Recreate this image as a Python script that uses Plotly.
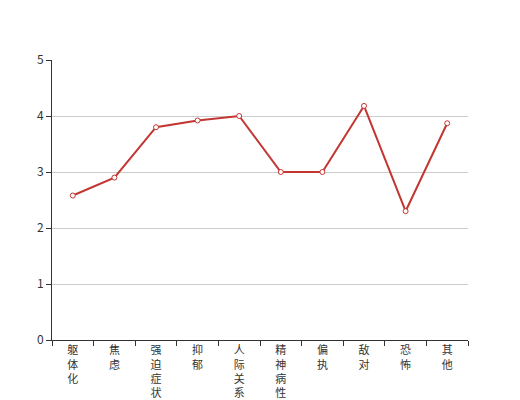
import plotly.graph_objects as go

categories = ["躯体化", "焦虑", "强迫症状", "抑郁", "人际关系敏感", "精神病性", "偏执", "敌对", "恐怖", "其他"]
values = [2.58, 2.9, 3.8, 3.92, 4.0, 3.0, 3.0, 4.18, 2.3, 3.87]
y_ticks = [0, 1, 2, 3, 4, 5]

labels = ["<br>".join(list(c)) for c in categories]

fig = go.Figure()
fig.add_trace(go.Scatter(
    x=categories, y=values, mode="lines+markers",
    line=dict(color="#c23531", width=2),
    marker=dict(size=5, color="white", line=dict(color="#c23531", width=1)),
))

fig.update_layout(
    width=520, height=400,
    margin=dict(l=44, r=60, t=52, b=68),
    paper_bgcolor="white", plot_bgcolor="white",
    showlegend=False,
    font=dict(family="Noto Sans CJK SC, sans-serif", size=12, color="#333"),
)
fig.update_xaxes(
    type="category", tickvals=categories, ticktext=labels,
    tickson="boundaries", ticks="outside", ticklen=5, tickcolor="#333",
    showline=True, linecolor="#333", linewidth=1,
    showgrid=False, zeroline=False, automargin=False,
    tickfont=dict(size=11, color="#333"),
    range=[-0.5, len(categories) - 0.5],
)
fig.update_yaxes(
    range=[0, 5], tickvals=y_ticks,
    ticks="outside", ticklen=5, tickcolor="#333",
    showline=True, linecolor="#333", linewidth=1,
    showgrid=True, gridcolor="#ccc", zeroline=False, automargin=False,
    tickfont=dict(size=12, color="#333"),
)

fig.write_html("out.html")
